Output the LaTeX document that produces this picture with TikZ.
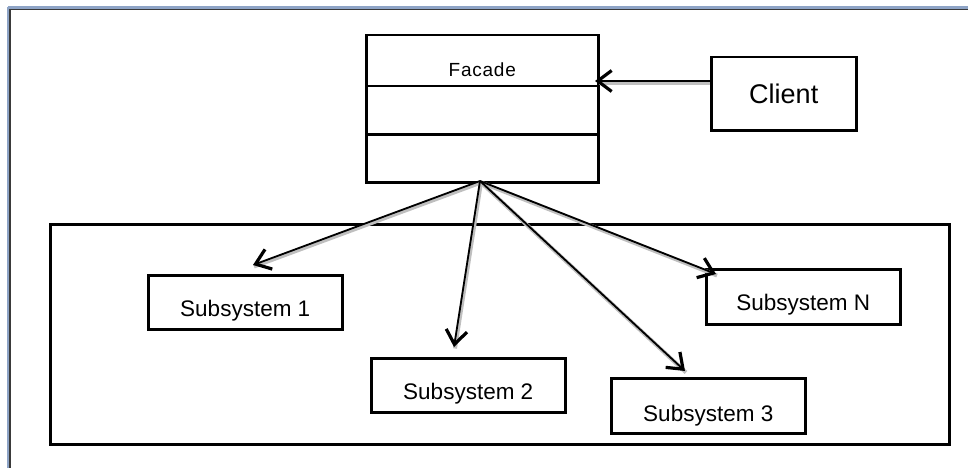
\documentclass[tikz,border=0pt]{standalone}
\usepackage{fontspec}
\setmainfont{Liberation Sans}
\usetikzlibrary{arrows.meta,calc}
\definecolor{framebl}{HTML}{8EA4C6}
\definecolor{framedk}{HTML}{3A3A3A}
\newcommand{\subtextfont}{\fontsize{22.5}{25}\selectfont}
\tikzset{
  boxst/.style={draw=black, line width=2.5pt, rectangle, inner sep=0pt, anchor=north west},
  subst/.style={boxst, minimum width=194pt, minimum height=54pt, font=\subtextfont, text height=30pt, text depth=2pt},
  linkst/.style={draw=black, line width=1.8pt, -{Straight Barb[length=14pt,width=21pt,line width=3.2pt]}},
  shadowst/.style={draw=black!25, line width=4pt}
}
\begin{document}
\begin{tikzpicture}[x=1pt,y=-1pt]
\useasboundingbox (0,0) rectangle (968,468);
% outer frame (only top and left visible)
\draw[framebl, line width=2.5pt] (8,7.5) -- (968,7.5);
\draw[framebl, line width=2.5pt] (8,7.5) -- (8,468);
\draw[framedk, line width=1.5pt] (9.8,9.5) -- (968,9.5);
\draw[framedk, line width=1.5pt] (9.8,9.5) -- (9.8,468);
% container
\node[boxst, minimum width=899pt, minimum height=220pt] (cont) at (49,223) {};
% facade
\node[boxst, minimum width=232pt, minimum height=51pt, text height=35pt, text depth=4.4pt,
  font=\fontsize{19}{21}\selectfont] (fname) at (365,34)
  {\addfontfeature{LetterSpace=4}Facade};
\node[boxst, minimum width=232pt, minimum height=48pt] (fattr) at (365,85) {};
\node[boxst, minimum width=232pt, minimum height=48pt] (fops) at (365,133) {};
% client
\node[boxst, minimum width=145pt, minimum height=73pt] (client) at (710,56)
  {\fontsize{27}{30}\selectfont Client};
% subsystems
\node[subst] (s1) at (147,274) {Subsystem 1};
\node[subst] (s2) at (370,357) {Subsystem 2};
\node[subst, minimum height=55pt, text height=33pt] (s3) at (610,377) {Subsystem 3};
\node[subst, minimum height=55pt] (sn) at (705,268) {Subsystem N};
% arrow ends
\coordinate (fb) at (480,181);
\coordinate (cin) at (595,81);
\coordinate (t1) at (253,265);
\coordinate (t2) at (454,347);
\coordinate (t3) at (685,371);
\coordinate (tn) at (716,274);
% shadows
\foreach \t in {t1,t2,t3,tn} \draw[shadowst] ($(fb)+(1,1.5)$) -- ($(\t)+(1,1.5)$);
\draw[shadowst] ($(client.west|-cin)+(0,2)$) -- ($(cin)+(4,2)$);
% connectors
\draw[linkst] (client.west|-cin) -- (cin);
\draw[linkst] (fb) -- (t1);
\draw[linkst] (fb) -- (t2);
\draw[linkst] (fb) -- (t3);
\draw[linkst] (fb) -- (tn);
\end{tikzpicture}
\end{document}
